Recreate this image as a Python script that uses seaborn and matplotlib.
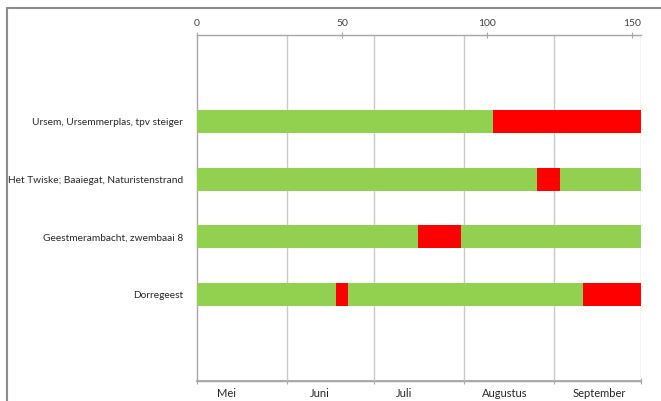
import matplotlib
matplotlib.use("Agg")
import matplotlib.pyplot as plt
from matplotlib.lines import Line2D
import seaborn as sns
import pandas as pd

# Bathing sites and their status periods (days from 1 May), alternating good / warning
sites = [
    "Ursem, Ursemmerplas, tpv steiger",
    "Het Twiske; Baaiegat, Naturistenstrand",
    "Geestmerambacht, zwembaai 8",
    "Dorregeest",
]
ursem = [102, 51]
twiske = [117, 8, 28]
geestmer = [76, 15, 62]
dorregeest = [48, 4, 81, 20]
periods = [ursem, twiske, geestmer, dorregeest]

months = ["Mei", "Juni", "Juli", "Augustus", "September"]
month_edges = [0, 31, 61, 92, 123, 153]
top_ticks = [0, 50, 100, 150]

status_names = ["goed", "waarschuwing"]
palette = {"goed": "#92D050", "waarschuwing": "#FF0000"}

sns.set_theme(style="white")
plt.rcParams["font.family"] = ["Lato", "DejaVu Sans"]

fig = plt.figure(figsize=(6.61, 4.01), dpi=100)
ax = fig.add_axes([197 / 661, 20 / 401, 444 / 661, 346 / 401])

# Build stacked bars by overdrawing cumulative ends, last segment first
rows = []
for site, segs in zip(sites, periods):
    total = 0
    for k, length in enumerate(segs):
        total += length
        rows.append({"site": site, "layer": k, "end": total,
                     "status": status_names[k % 2]})
df = pd.DataFrame(rows)

for k in sorted(df["layer"].unique(), reverse=True):
    part = df[df["layer"] == k]
    sns.barplot(data=part, x="end", y="site", hue="status", order=sites,
                hue_order=status_names, palette=palette, dodge=False,
                width=0.4, errorbar=None, legend=False, saturation=1,
                linewidth=0, ax=ax, zorder=3)

ax.set_xlabel("")
ax.set_ylabel("")
ax.set_xlim(0, 153)
ax.set_ylim(4.5, -1.5)

axis_col = "#A6A6A6"
grid_col = "#CACACA"

# y axis: labels at bar centres, small ticks at slot boundaries
ax.set_yticks(range(len(sites)))
ax.set_yticklabels(sites, fontsize=7.3, color="#262626")
ax.set_yticks([b - 0.5 for b in range(-1, 6)], minor=True)
ax.tick_params(axis="y", which="major", length=0, pad=10)
ax.tick_params(axis="y", which="minor", length=4, width=0.8,
               color=axis_col, direction="out")

# top x axis with day numbers
ax.xaxis.tick_top()
ax.set_xticks(top_ticks)
ax.set_xticklabels([str(t) for t in top_ticks], fontsize=7.5, color="#404040")
ax.tick_params(axis="x", which="major", length=4, width=0.8,
               color=axis_col, direction="inout", pad=3)

# month gridlines
ax.set_xticks(month_edges, minor=True)
ax.tick_params(axis="x", which="minor", length=0)
ax.grid(False)
ax.xaxis.grid(True, which="minor", color=grid_col, linewidth=1.0, zorder=0)
ax.set_axisbelow(True)

for side in ["top", "left", "bottom"]:
    ax.spines[side].set_color(axis_col)
    ax.spines[side].set_linewidth(1.0)
ax.spines["right"].set_visible(False)

# bottom month axis
sec = ax.secondary_xaxis("bottom")
sec.set_xticks(month_edges)
sec.set_xticklabels([""] * len(month_edges))
sec.tick_params(axis="x", which="major", length=4, width=0.8,
                color=axis_col, direction="inout")
label_pos = [10, 42.5, 71.5, 106, 138.5]
sec.set_xticks(label_pos, minor=True)
sec.set_xticklabels(months, minor=True, fontsize=8, color="#262626")
sec.tick_params(axis="x", which="minor", length=0, pad=5)
sec.spines["bottom"].set_color(axis_col)

# chart frame
frame_col = "#8C8C8C"
fig.add_artist(Line2D([7 / 661, 1], [1 - 8 / 401, 1 - 8 / 401],
                      transform=fig.transFigure, color=frame_col, linewidth=1.5))
fig.add_artist(Line2D([7 / 661, 7 / 661], [0, 1 - 8 / 401],
                      transform=fig.transFigure, color=frame_col, linewidth=1.5))

fig.savefig("out.png", dpi=100)
